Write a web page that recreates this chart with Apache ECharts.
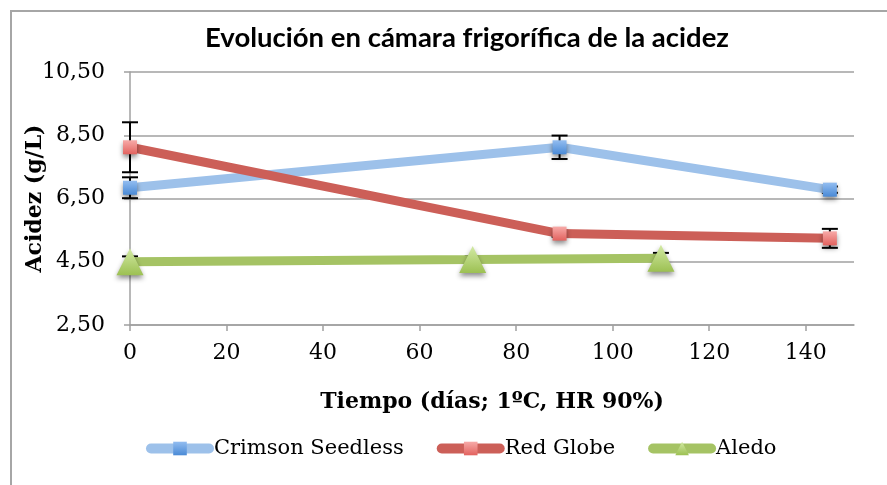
<!DOCTYPE html>
<html>
<head>
<meta charset="utf-8">
<script src="https://cdn.jsdelivr.net/npm/echarts@6/dist/echarts.min.js"></script>
<style>
html, body { margin: 0; padding: 0; background: #fff; }
#chart { width: 887px; height: 485px; }
</style>
</head>
<body>
<div id="chart"></div>
<script>
// datos
const titleText = 'Evolución en cámara frigorífica de la acidez'
const xName = 'Tiempo (días; 1ºC, HR 90%)'
const yName = 'Acidez (g/L)'
const seriesNames = ['Crimson Seedless', 'Red Globe', 'Aledo']

const crimsonX = [0, 89, 145]
const crimsonY = [6.84, 8.12, 6.78]
const crimsonErr = [0.33, 0.37, 0.1]

const redX = [0, 89, 145]
const redY = [8.12, 5.39, 5.24]
const redErr = [0.79, 0.1, 0.3]

const aledoX = [0, 71, 110]
const aledoY = [4.5, 4.57, 4.61]
const aledoErr = [0.17, 0.1, 0.17]

const pairs = (xs, ys) => xs.map((x, i) => [x, ys[i]])
const triples = (xs, ys, es) => xs.map((x, i) => [x, ys[i], es[i]])

const serif = 'DejaVu Serif'
const gridColor = '#a0a0a0'

const grad = (c1, c2) => new echarts.graphic.LinearGradient(0, 0, 0, 1, [
	{ offset: 0, color: c1 },
	{ offset: 1, color: c2 },
])
const shadow = {
	shadowBlur: 5,
	shadowColor: 'rgba(0,0,0,0.45)',
	shadowOffsetY: 3,
}

// barras de error
const renderError = (params, api) => {
	const x = api.value(0)
	const y = api.value(1)
	const e = api.value(2)
	const top = api.coord([x, y + e])
	const bot = api.coord([x, y - e])
	const hw = 8
	const st = { stroke: '#000', lineWidth: 2 }
	return {
		type: 'group',
		children: [
			{ type: 'line', shape: { x1: top[0], y1: top[1], x2: bot[0], y2: bot[1] }, style: st },
			{ type: 'line', shape: { x1: top[0] - hw, y1: top[1], x2: top[0] + hw, y2: top[1] }, style: st },
			{ type: 'line', shape: { x1: bot[0] - hw, y1: bot[1], x2: bot[0] + hw, y2: bot[1] }, style: st },
		],
	}
}

const lineSeries = (name, data, lineColor, c1, c2, symbol, size) => ({
	name: name,
	type: 'line',
	data: data,
	z: 3,
	symbol: symbol,
	symbolSize: size,
	lineStyle: { width: 9, color: lineColor },
	itemStyle: Object.assign({ color: grad(c1, c2), borderWidth: 0 }, shadow),
})

const errSeries = (data) => ({
	type: 'custom',
	renderItem: renderError,
	data: data,
	z: 2,
	silent: true,
})

const option = {
	animation: false,
	backgroundColor: '#fff',
	title: {
		text: titleText,
		left: 200,
		top: 19,
		textStyle: {
			fontFamily: 'Lato',
			fontWeight: 'bold',
			fontSize: 27.5,
			color: '#000',
		},
	},
	legend: {
		data: seriesNames,
		left: 141,
		top: 433,
		itemWidth: 58,
		itemHeight: 17,
		itemGap: 33,
		lineStyle: { width: 10, cap: 'round' },
		textStyle: { fontFamily: serif, fontSize: 21, color: '#000' },
	},
	grid: {
		left: 130,
		right: 33,
		top: 72,
		bottom: 160,
	},
	xAxis: {
		type: 'value',
		min: 0,
		max: 150,
		interval: 20,
		name: xName,
		nameLocation: 'middle',
		nameGap: 66,
		nameMoveOverlap: false,
		nameTextStyle: { fontFamily: serif, fontWeight: 'bold', fontSize: 22, color: '#000' },
		axisLine: { show: true, lineStyle: { color: gridColor, width: 1.5 } },
		axisTick: { show: true, length: 6, lineStyle: { color: gridColor, width: 1.5 } },
		axisLabel: {
			fontFamily: serif,
			fontSize: 22,
			color: '#000',
			margin: 17,
			showMaxLabel: false,
		},
		splitLine: { show: false },
	},
	yAxis: {
		type: 'value',
		min: 2.5,
		max: 10.5,
		interval: 2,
		name: yName,
		nameLocation: 'middle',
		nameGap: 84,
		nameRotate: 90,
		nameMoveOverlap: false,
		nameTextStyle: { fontFamily: serif, fontWeight: 'bold', fontSize: 22, color: '#000' },
		axisLine: { show: true, lineStyle: { color: gridColor, width: 1.5 } },
		axisTick: { show: true, length: 6, lineStyle: { color: gridColor, width: 1.5 } },
		axisLabel: {
			fontFamily: serif,
			fontSize: 22,
			color: '#000',
			margin: 25,
			formatter: (v) => v.toFixed(2).replace('.', ','),
		},
		splitLine: { show: true, lineStyle: { color: gridColor, width: 1.5 } },
	},
	graphic: [
		{
			type: 'rect',
			shape: { x: 11, y: 11, width: 900, height: 490 },
			style: { fill: 'none', stroke: '#a6a6a6', lineWidth: 2 },
			silent: true,
			z: -1,
		},
	],
	series: [
		errSeries(triples(crimsonX, crimsonY, crimsonErr)),
		errSeries(triples(redX, redY, redErr)),
		errSeries(triples(aledoX, aledoY, aledoErr)),
		lineSeries(seriesNames[0], pairs(crimsonX, crimsonY), '#9dc1ea', '#93bdf0', '#4a8ad6', 'rect', 14),
		lineSeries(seriesNames[1], pairs(redX, redY), '#cc5f58', '#f7aaa8', '#e2625e', 'rect', 14),
		lineSeries(seriesNames[2], pairs(aledoX, aledoY), '#a5c364', '#d3eaa5', '#9cc052', 'triangle', 27),
	],
}

const myChart = echarts.init(document.getElementById('chart'))
myChart.setOption(option)
</script>
</body>
</html>
